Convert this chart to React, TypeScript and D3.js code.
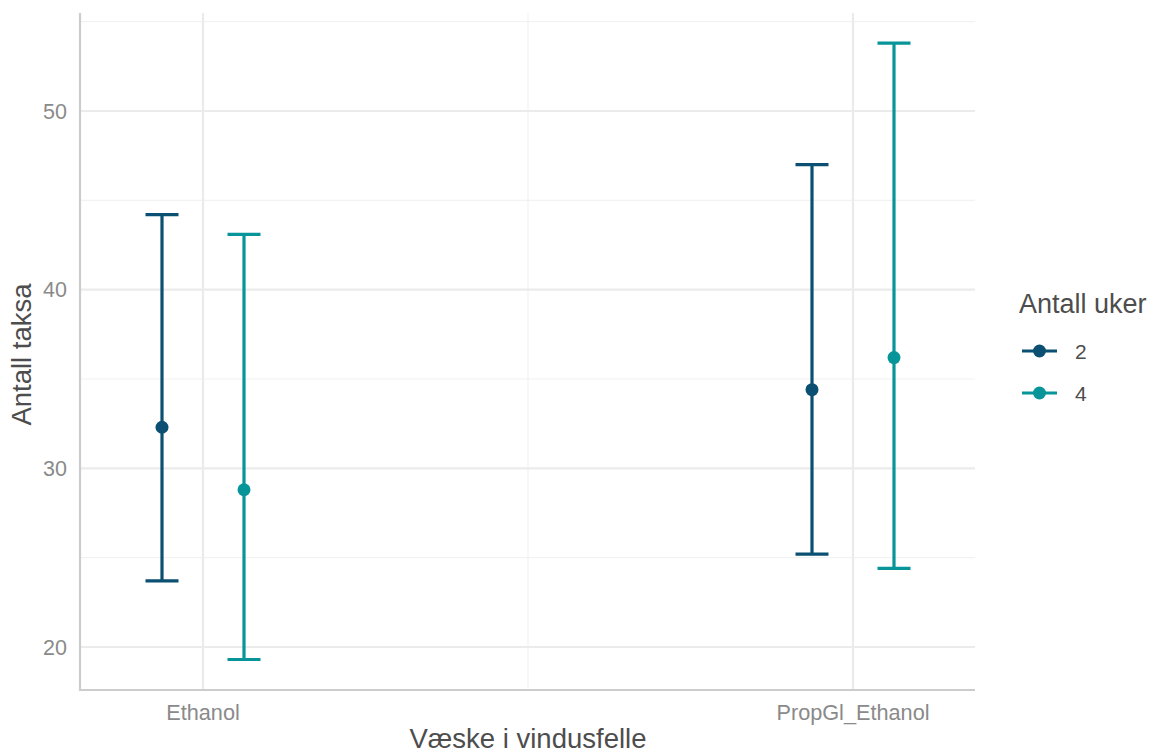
import React from "react";
import * as d3 from "d3";

const categories = ["Ethanol", "PropGl_Ethanol"];
const groups = ["2", "4"];
const groupColors = ["#0b5072", "#07959a"];
const means = [
  [32.3, 28.8],
  [34.4, 36.2],
];
const lowers = [
  [23.7, 19.3],
  [25.2, 24.4],
];
const uppers = [
  [44.2, 43.1],
  [47.0, 53.8],
];
const yTicks = [20, 30, 40, 50];
const yMinor = [25, 35, 45, 55];

export default function App() {
  const W = 1152, H = 754;
  const left = 80, right = 975, top = 13, bottom = 690;
  const y = d3.scaleLinear().domain([20, 50]).range([647, 111]);
  const x = d3.scalePoint<string>().domain(categories).range([203, 853]);
  const dodge = d3.scalePoint<string>().domain(groups).range([-41, 41]);
  const capW = 16.5;
  const xMid = ((x(categories[0]) as number) + (x(categories[1]) as number)) / 2;
  const font = "Liberation Sans, Arial, sans-serif";

  return (
    <svg width={W} height={H} style={{ position: "absolute", left: 0, top: 0 }} fontFamily={font}>
      <rect width={W} height={H} fill="white" />
      {/* minor grid */}
      {yMinor.map((v) => (
        <line key={"ym" + v} x1={left} x2={right} y1={y(v)} y2={y(v)} stroke="#f2f2f2" strokeWidth={1.2} />
      ))}
      <line x1={xMid} x2={xMid} y1={top} y2={bottom} stroke="#f2f2f2" strokeWidth={1.2} />
      {/* major grid */}
      {yTicks.map((v) => (
        <line key={"y" + v} x1={left} x2={right} y1={y(v)} y2={y(v)} stroke="#ebebeb" strokeWidth={2.2} />
      ))}
      {categories.map((c) => (
        <line key={"x" + c} x1={x(c)} x2={x(c)} y1={top} y2={bottom} stroke="#ebebeb" strokeWidth={2.2} />
      ))}
      {/* axes */}
      <line x1={left} x2={left} y1={top} y2={bottom + 1} stroke="#cccccc" strokeWidth={2.2} />
      <line x1={left - 1} x2={right} y1={bottom} y2={bottom} stroke="#cccccc" strokeWidth={2.2} />
      {/* tick labels */}
      {yTicks.map((v) => (
        <text key={"yt" + v} x={67} y={y(v)} dy="0.36em" textAnchor="end" fontSize={21.5} fill="#8a8a8a">
          {v}
        </text>
      ))}
      {categories.map((c) => (
        <text key={"xt" + c} x={x(c)} y={720} textAnchor="middle" fontSize={21.7} fill="#8a8a8a">
          {c}
        </text>
      ))}
      {/* error bars */}
      {categories.map((c, i) =>
        groups.map((g, j) => {
          const cx = (x(c) as number) + (dodge(g) as number);
          const col = groupColors[j];
          return (
            <g key={c + g}>
              <line x1={cx} x2={cx} y1={y(lowers[i][j])} y2={y(uppers[i][j])} stroke={col} strokeWidth={3.2} />
              <line x1={cx - capW} x2={cx + capW} y1={y(lowers[i][j])} y2={y(lowers[i][j])} stroke={col} strokeWidth={3.2} />
              <line x1={cx - capW} x2={cx + capW} y1={y(uppers[i][j])} y2={y(uppers[i][j])} stroke={col} strokeWidth={3.2} />
              <circle cx={cx} cy={y(means[i][j])} r={6.5} fill={col} />
            </g>
          );
        })
      )}
      {/* axis titles */}
      <text x={528} y={748} textAnchor="middle" fontSize={27.5} fill="#4d4d4d">
        Væske i vindusfelle
      </text>
      <text transform={`translate(31,${(top + bottom) / 2 + 3}) rotate(-90)`} textAnchor="middle" fontSize={27.5} fill="#4d4d4d">
        Antall taksa
      </text>
      {/* legend */}
      <text x={1019} y={313} fontSize={27} fill="#4d4d4d">
        Antall uker
      </text>
      {groups.map((g, j) => {
        const ly = 351 + j * 42;
        return (
          <g key={"lg" + g}>
            <line x1={1022} x2={1057} y1={ly} y2={ly} stroke={groupColors[j]} strokeWidth={3.2} />
            <circle cx={1039.5} cy={ly} r={6.5} fill={groupColors[j]} />
            <text x={1075} y={ly} dy="0.36em" fontSize={21} fill="#4d4d4d">
              {g}
            </text>
          </g>
        );
      })}
    </svg>
  );
}
